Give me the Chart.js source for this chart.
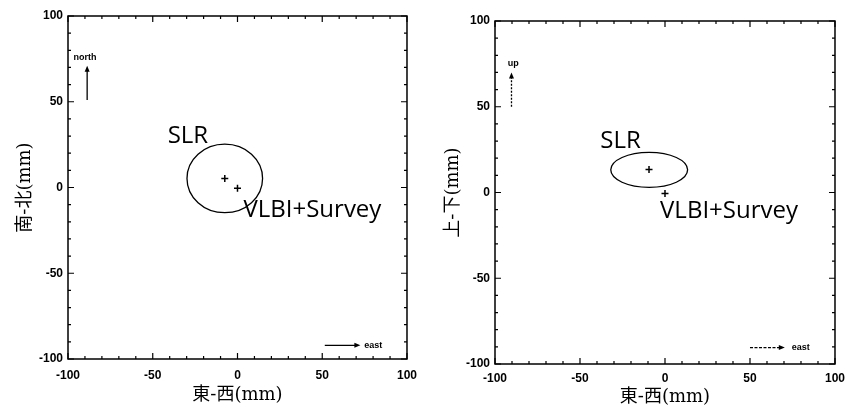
<!DOCTYPE html>
<html>
<head>
<meta charset="utf-8">
<script src="https://cdn.jsdelivr.net/npm/chart.js@4"></script>
<style>
  html, body { margin: 0; padding: 0; background: #fff; }
  #wrap { position: relative; width: 852px; height: 408px; }
  .box { position: absolute; top: 0; height: 408px; }
</style>
</head>
<body>
<div id="wrap">
  <div class="box" style="left:0;width:426px"><canvas id="leftChart"></canvas></div>
  <div class="box" style="left:430px;width:422px"><canvas id="rightChart"></canvas></div>
</div>
<script>
// Axis ticks (mm)
const majorTicks = [-100, -50, 0, 50, 100];
const minorTicks = [-90, -80, -70, -60, -40, -30, -20, -10, 10, 20, 30, 40, 60, 70, 80, 90];

// Left panel: east-west vs north-south
const nsSlrPoint = [{ x: -7.5, y: 5.3 }];
const nsVlbiPoint = [{ x: 0, y: -0.5 }];
const nsSlrEllipse = [-7.5, 5.3, 22.3, 20]; // centre x, centre y, semi-axis x, semi-axis y

// Right panel: east-west vs up-down
const udSlrPoint = [{ x: -9.4, y: 13.4 }];
const udVlbiPoint = [{ x: 0, y: -0.6 }];
const udSlrEllipse = [-9.3, 13.2, 22.6, 10.2];

const tickFont = { family: '"Liberation Sans", Arial, sans-serif', size: 12, weight: 'bold' };
const titleFont = { family: '"DejaVu Serif", "Noto Sans CJK JP", serif', size: 18 };
const noteFont = '24px "Open Sans", sans-serif';
const smallFont = 'bold 9px "Liberation Sans", Arial, sans-serif';

// Draws the frame, inward ticks, the error ellipse, the arrows and the text notes
const overlayPlugin = {
  id: 'overlay',
  afterDatasetsDraw(chart, args, opts) {
    const { ctx, chartArea: a, scales: { x, y } } = chart;
    ctx.save();
    ctx.strokeStyle = '#000';
    ctx.fillStyle = '#000';

    ctx.lineWidth = 1.5;
    ctx.strokeRect(a.left, a.top, a.right - a.left, a.bottom - a.top);

    const drawTick = (v, len) => {
      const px = x.getPixelForValue(v), py = y.getPixelForValue(v);
      ctx.beginPath();
      ctx.moveTo(px, a.bottom); ctx.lineTo(px, a.bottom - len);
      ctx.moveTo(px, a.top); ctx.lineTo(px, a.top + len);
      ctx.moveTo(a.left, py); ctx.lineTo(a.left + len, py);
      ctx.moveTo(a.right, py); ctx.lineTo(a.right - len, py);
      ctx.stroke();
    };
    ctx.lineWidth = 1.2;
    majorTicks.forEach(v => drawTick(v, 6));
    minorTicks.forEach(v => drawTick(v, 3));

    // SLR error ellipse
    const [cx, cy, rx, ry] = opts.ellipse;
    const px = x.getPixelForValue(cx), py = y.getPixelForValue(cy);
    const prx = Math.abs(x.getPixelForValue(cx + rx) - px);
    const pry = Math.abs(y.getPixelForValue(cy + ry) - py);
    ctx.lineWidth = 1.3;
    ctx.beginPath();
    ctx.ellipse(px, py, prx, pry, opts.tilt || 0, 0, Math.PI * 2);
    ctx.stroke();

    // direction arrows
    opts.arrows.forEach(ar => {
      const x0 = x.getPixelForValue(ar.from[0]), y0 = y.getPixelForValue(ar.from[1]);
      const x1 = x.getPixelForValue(ar.to[0]), y1 = y.getPixelForValue(ar.to[1]);
      const ang = Math.atan2(y1 - y0, x1 - x0);
      ctx.lineWidth = 1.3;
      ctx.setLineDash(ar.dash || []);
      ctx.beginPath();
      ctx.moveTo(x0, y0);
      ctx.lineTo(x1 - 4 * Math.cos(ang), y1 - 4 * Math.sin(ang));
      ctx.stroke();
      ctx.setLineDash([]);
      ctx.beginPath();
      ctx.moveTo(x1, y1);
      ctx.lineTo(x1 - 6 * Math.cos(ang) + 2.5 * Math.sin(ang), y1 - 6 * Math.sin(ang) - 2.5 * Math.cos(ang));
      ctx.lineTo(x1 - 6 * Math.cos(ang) - 2.5 * Math.sin(ang), y1 - 6 * Math.sin(ang) + 2.5 * Math.cos(ang));
      ctx.closePath();
      ctx.fill();
    });

    // text notes
    ctx.textAlign = 'left';
    ctx.textBaseline = 'middle';
    opts.labels.forEach(lb => {
      ctx.font = lb.font;
      ctx.fillText(lb.text, x.getPixelForValue(lb.x), y.getPixelForValue(lb.y));
    });
    ctx.restore();
  }
};

function makeChart(canvasId, cfg) {
  return new Chart(document.getElementById(canvasId), {
    type: 'scatter',
    data: {
      datasets: [
        { label: 'SLR', data: cfg.slr },
        { label: 'VLBI+Survey', data: cfg.vlbi }
      ].map(d => Object.assign(d, {
        pointStyle: 'cross', pointRadius: 3.5, borderColor: '#000', borderWidth: 1.5
      }))
    },
    options: {
      responsive: true,
      maintainAspectRatio: false,
      animation: false,
      layout: { padding: cfg.padding },
      plugins: {
        legend: { display: false },
        tooltip: { enabled: false },
        overlay: { ellipse: cfg.ellipse, arrows: cfg.arrows, labels: cfg.labels }
      },
      scales: {
        x: {
          type: 'linear', min: -100, max: 100,
          afterBuildTicks: s => { s.ticks = majorTicks.map(v => ({ value: v })); },
          afterFit: s => { s.height = cfg.xAxisHeight; },
          grid: { display: false, drawTicks: false, tickLength: 0 },
          border: { display: false },
          ticks: { font: tickFont, color: '#000', padding: cfg.xTickPad, maxRotation: 0, autoSkip: false },
          title: { display: true, text: '東-西(mm)', font: titleFont, color: '#000', padding: { top: 0, bottom: cfg.xTitlePad } }
        },
        y: {
          type: 'linear', min: -100, max: 100,
          afterBuildTicks: s => { s.ticks = majorTicks.map(v => ({ value: v })); },
          afterFit: s => { s.width = cfg.yAxisWidth; },
          grid: { display: false, drawTicks: false, tickLength: 0 },
          border: { display: false },
          ticks: { font: tickFont, color: '#000', padding: 5, autoSkip: false },
          title: { display: true, text: cfg.yTitle, font: titleFont, color: '#000', padding: { top: cfg.yTitlePad, bottom: 0 } }
        }
      }
    },
    plugins: [overlayPlugin]
  });
}

makeChart('leftChart', {
  slr: nsSlrPoint,
  vlbi: nsVlbiPoint,
  ellipse: nsSlrEllipse,
  yTitle: '南-北(mm)',
  padding: { left: 0, right: 13, top: 16, bottom: 0 },
  yAxisWidth: 68, xAxisHeight: 49, xTickPad: 9, xTitlePad: 2, yTitlePad: 15,
  arrows: [
    { from: [-88.7, 51], to: [-88.7, 71] },
    { from: [51.5, -92], to: [72.5, -92] }
  ],
  labels: [
    { text: 'SLR', x: -41.2, y: 29.8, font: noteFont },
    { text: 'VLBI+Survey', x: 3.5, y: -13.5, font: noteFont },
    { text: 'north', x: -96.8, y: 76, font: smallFont },
    { text: 'east', x: 74.8, y: -92.2, font: smallFont }
  ]
});

makeChart('rightChart', {
  slr: udSlrPoint,
  vlbi: udVlbiPoint,
  ellipse: udSlrEllipse,
  yTitle: '上-下(mm)',
  padding: { left: 0, right: 16, top: 21, bottom: 0 },
  yAxisWidth: 65, xAxisHeight: 44, xTickPad: 7, xTitlePad: 0, yTitlePad: 13,
  arrows: [
    { from: [-90.3, 50], to: [-90.3, 70], dash: [2, 1.5] },
    { from: [50, -90.4], to: [70.5, -90.4], dash: [3, 1.5] }
  ],
  labels: [
    { text: 'SLR', x: -38.1, y: 29.7, font: noteFont },
    { text: 'VLBI+Survey', x: -2.9, y: -11.1, font: noteFont },
    { text: 'up', x: -92.5, y: 75.5, font: smallFont },
    { text: 'east', x: 74.5, y: -90.4, font: smallFont }
  ]
});
</script>
</body>
</html>
